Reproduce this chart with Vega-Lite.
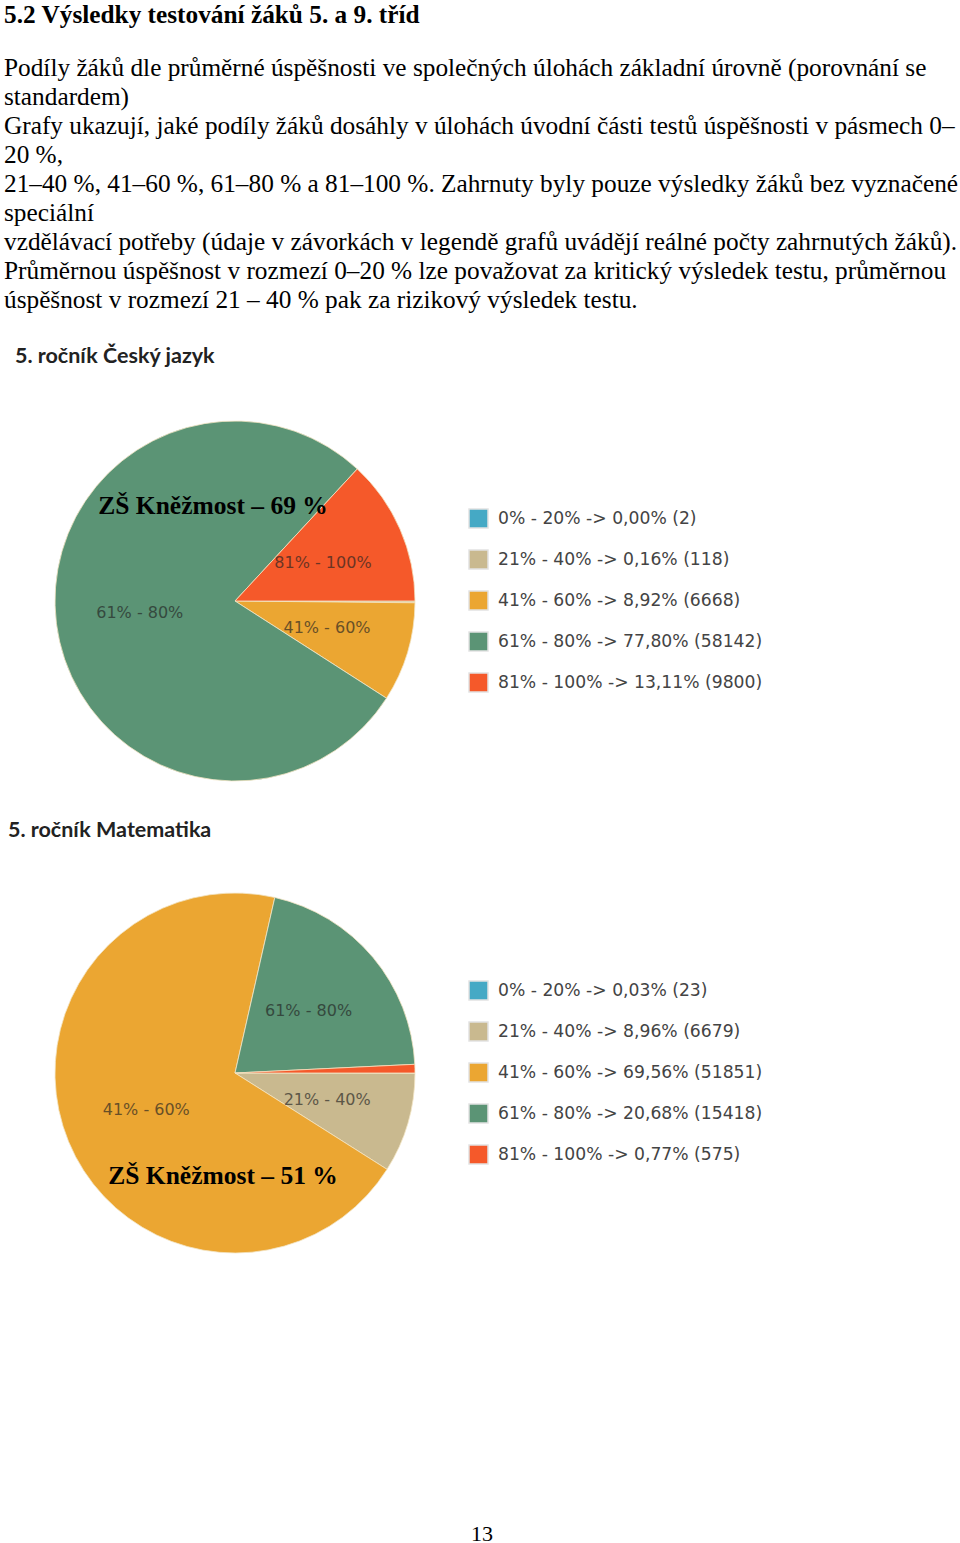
{
  "$schema": "https://vega.github.io/schema/vega-lite/v6.json",
  "padding": {"top": 2, "left": 0, "right": 0, "bottom": 0},
  "background": "white",
  "config": {"view": {"stroke": null}},
  "title": {
    "text": "5.2 Výsledky testování žáků 5. a 9. tříd",
    "subtitle": [
      "Podíly žáků dle průměrné úspěšnosti ve společných úlohách základní úrovně (porovnání se",
      "standardem)",
      "Grafy ukazují, jaké podíly žáků dosáhly v úlohách úvodní části testů úspěšnosti v pásmech 0–",
      "20 %,",
      "21–40 %, 41–60 %, 61–80 % a 81–100 %. Zahrnuty byly pouze výsledky žáků bez vyznačené",
      "speciální",
      "vzdělávací potřeby (údaje v závorkách v legendě grafů uvádějí reálné počty zahrnutých žáků).",
      "Průměrnou úspěšnost v rozmezí 0–20 % lze považovat za kritický výsledek testu, průměrnou",
      "úspěšnost v rozmezí 21 – 40 % pak za rizikový výsledek testu."
    ],
    "anchor": "start",
    "dx": 4,
    "font": "Liberation Serif",
    "fontSize": 25.3,
    "fontWeight": "bold",
    "color": "black",
    "subtitleFont": "Liberation Serif",
    "subtitleFontSize": 25.3,
    "subtitleColor": "black",
    "subtitleLineHeight": 29,
    "subtitlePadding": 28,
    "offset": 32
  },
  "spacing": 260,
  "vconcat": [
    {
      "spacing": 28,
      "resolve": {"scale": {"color": "independent", "theta": "independent"}},
      "vconcat": [
        {
          "width": 470,
          "height": 380,
          "title": {"text": "5. ročník Český jazyk", "anchor": "start", "dx": 15, "font": "Lato", "fontSize": 21.5, "fontWeight": "bold", "color": "#222222", "offset": 44},
          "data": {"values": [
            {"kat": "0% - 20%", "podil": 0.00, "pocet": 2, "legenda": "0% - 20% -> 0,00% (2)"},
            {"kat": "21% - 40%", "podil": 0.16, "pocet": 118, "legenda": "21% - 40% -> 0,16% (118)"},
            {"kat": "41% - 60%", "podil": 8.92, "pocet": 6668, "legenda": "41% - 60% -> 8,92% (6668)"},
            {"kat": "61% - 80%", "podil": 77.80, "pocet": 58142, "legenda": "61% - 80% -> 77,80% (58142)"},
            {"kat": "81% - 100%", "podil": 13.11, "pocet": 9800, "legenda": "81% - 100% -> 13,11% (9800)"}
          ]},
          "layer": [
            {
              "mark": {"type": "arc", "outerRadius": 180, "stroke": "#f2e4c4", "strokeWidth": 0.8},
              "encoding": {
                "theta": {"field": "podil", "type": "quantitative", "stack": true, "scale": {"range": [1.5708, 7.854]}},
                "order": {"field": "kat", "type": "nominal"},
                "color": {
                  "field": "legenda", "type": "nominal",
                  "scale": {"range": ["#45a9c5", "#c9b98f", "#eba632", "#5b9475", "#f5592a"]},
                  "legend": {
                    "title": null, "orient": "none", "legendX": 468, "legendY": 97,
                    "symbolType": "square", "symbolSize": 361, "symbolStrokeColor": "#e2e2e2", "symbolStrokeWidth": 1.5, "symbolOpacity": 1,
                    "labelFont": "DejaVu Sans", "labelFontSize": 17.2, "labelColor": "#444444", "labelOffset": 9, "labelLimit": 400,
                    "rowPadding": 16
                  }
                }
              }
            },
            {
              "mark": {"type": "text", "radius": 96, "font": "DejaVu Sans", "fontSize": 16, "fill": "#222222", "opacity": 0.65},
              "encoding": {
                "theta": {"field": "podil", "type": "quantitative", "stack": true},
                "order": {"field": "kat", "type": "nominal"},
                "text": {"condition": {"test": "datum.podil < 5", "value": ""}, "field": "kat"}
              }
            },
            {
              "data": {"values": [{"t": "ZŠ Kněžmost – 69 %"}]},
              "mark": {"type": "text", "font": "Liberation Serif", "fontSize": 25.5, "fontWeight": "bold", "fill": "black", "dx": -22, "dy": -95},
              "encoding": {"text": {"field": "t"}}
            }
          ]
        },
        {
          "width": 470,
          "height": 380,
          "title": {"text": "5. ročník Matematika", "anchor": "start", "dx": 8, "font": "Lato", "fontSize": 21.5, "fontWeight": "bold", "color": "#222222", "offset": 42},
          "data": {"values": [
            {"kat": "0% - 20%", "podil": 0.03, "pocet": 23, "legenda": "0% - 20% -> 0,03% (23)"},
            {"kat": "21% - 40%", "podil": 8.96, "pocet": 6679, "legenda": "21% - 40% -> 8,96% (6679)"},
            {"kat": "41% - 60%", "podil": 69.56, "pocet": 51851, "legenda": "41% - 60% -> 69,56% (51851)"},
            {"kat": "61% - 80%", "podil": 20.68, "pocet": 15418, "legenda": "61% - 80% -> 20,68% (15418)"},
            {"kat": "81% - 100%", "podil": 0.77, "pocet": 575, "legenda": "81% - 100% -> 0,77% (575)"}
          ]},
          "layer": [
            {
              "mark": {"type": "arc", "outerRadius": 180, "stroke": "#f2e4c4", "strokeWidth": 0.8},
              "encoding": {
                "theta": {"field": "podil", "type": "quantitative", "stack": true, "scale": {"range": [1.5708, 7.854]}},
                "order": {"field": "kat", "type": "nominal"},
                "color": {
                  "field": "legenda", "type": "nominal",
                  "scale": {"range": ["#45a9c5", "#c9b98f", "#eba632", "#5b9475", "#f5592a"]},
                  "legend": {
                    "title": null, "orient": "none", "legendX": 468, "legendY": 97,
                    "symbolType": "square", "symbolSize": 361, "symbolStrokeColor": "#e2e2e2", "symbolStrokeWidth": 1.5, "symbolOpacity": 1,
                    "labelFont": "DejaVu Sans", "labelFontSize": 17.2, "labelColor": "#444444", "labelOffset": 9, "labelLimit": 400,
                    "rowPadding": 16
                  }
                }
              }
            },
            {
              "mark": {"type": "text", "radius": 96, "font": "DejaVu Sans", "fontSize": 16, "fill": "#222222", "opacity": 0.65},
              "encoding": {
                "theta": {"field": "podil", "type": "quantitative", "stack": true},
                "order": {"field": "kat", "type": "nominal"},
                "text": {"condition": {"test": "datum.podil < 5", "value": ""}, "field": "kat"}
              }
            },
            {
              "data": {"values": [{"t": "ZŠ Kněžmost – 51 %"}]},
              "mark": {"type": "text", "font": "Liberation Serif", "fontSize": 25.5, "fontWeight": "bold", "fill": "black", "dx": -12, "dy": 103},
              "encoding": {"text": {"field": "t"}}
            }
          ]
        }
      ]
    },
    {
      "width": 960,
      "height": 20,
      "data": {"values": [{"strana": "13"}]},
      "mark": {"type": "text", "font": "Liberation Serif", "fontSize": 22, "fill": "black", "dx": 2},
      "encoding": {"text": {"field": "strana"}}
    }
  ]
}
